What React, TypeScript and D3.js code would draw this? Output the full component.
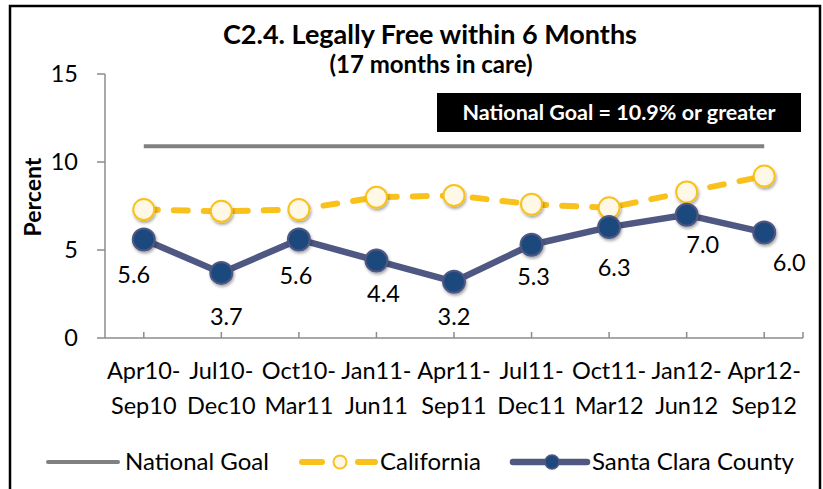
import * as d3 from "d3";
import { useRef, useEffect } from "react";

const periods = [
  ["Apr10-", "Sep10"],
  ["Jul10-", "Dec10"],
  ["Oct10-", "Mar11"],
  ["Jan11-", "Jun11"],
  ["Apr11-", "Sep11"],
  ["Jul11-", "Dec11"],
  ["Oct11-", "Mar12"],
  ["Jan12-", "Jun12"],
  ["Apr12-", "Sep12"],
];
const californiaValues = [7.3, 7.2, 7.3, 8.0, 8.1, 7.6, 7.4, 8.3, 9.2];
const santaClaraValues = [5.6, 3.7, 5.6, 4.4, 3.2, 5.3, 6.3, 7.0, 6.0];
const nationalGoal = 10.9;
const yTicks = [0, 5, 10, 15];

// hand placed label offsets (dx, dy from the marker centre)
const labelOffsets: [number, number][] = [
  [-10, 36],
  [5, 44],
  [-3, 37],
  [7, 33],
  [0, 35],
  [2, 32],
  [5, 41],
  [16, 30],
  [25, 31],
];

const FONT = "Lato, 'Liberation Sans', sans-serif";
const GOLD = "#F9C11B";
const NAVY = "#1F497D";
const SLATE = "#4F5882";
const GRAY = "#808080";

export default function App() {
  const width = 823;
  const height = 489;
  const marginLeft = 105;
  const plotRight = 803;
  const yTop = 74;
  const yBottom = 338;

  const ref = useRef(null);
  useEffect((): void => {
    if (!ref.current) return;
    const svg = d3.select(ref.current);
    svg.selectAll("*").remove();

    const keys = periods.map((p) => p.join(""));
    const x = d3.scaleBand().domain(keys).range([marginLeft, plotRight]);
    const cx = (i: number) => (x(keys[i]) as number) + x.bandwidth() / 2;
    const y = d3.scaleLinear().domain([0, 15]).range([yBottom, yTop]);

    const defs = svg.append("defs");
    defs
      .append("filter")
      .attr("id", "shadow")
      .attr("x", "-50%")
      .attr("y", "-50%")
      .attr("width", "200%")
      .attr("height", "200%")
      .append("feDropShadow")
      .attr("dx", 1)
      .attr("dy", 2)
      .attr("stdDeviation", 1.5)
      .attr("flood-opacity", 0.35);

    // outer frame
    svg
      .append("rect")
      .attr("x", 10)
      .attr("y", 6)
      .attr("width", 810)
      .attr("height", 520)
      .attr("fill", "white")
      .attr("stroke", "black")
      .attr("stroke-width", 2.5);

    // titles
    svg
      .append("text")
      .attr("x", 430)
      .attr("y", 44)
      .attr("text-anchor", "middle")
      .attr("font-family", FONT)
      .attr("font-weight", "bold")
      .attr("font-size", 27)
      .text("C2.4. Legally Free within 6 Months");
    svg
      .append("text")
      .attr("x", 431)
      .attr("y", 73)
      .attr("text-anchor", "middle")
      .attr("font-family", FONT)
      .attr("font-weight", "bold")
      .attr("font-size", 24)
      .text("(17 months in care)");

    // goal box
    svg
      .append("rect")
      .attr("x", 437)
      .attr("y", 93)
      .attr("width", 364)
      .attr("height", 39)
      .attr("fill", "black");
    svg
      .append("text")
      .attr("x", 619)
      .attr("y", 120)
      .attr("text-anchor", "middle")
      .attr("font-family", FONT)
      .attr("font-weight", "bold")
      .attr("font-size", 21.5)
      .attr("fill", "white")
      .text("National Goal = 10.9% or greater");

    // y axis
    const yAxis = svg.append("g").attr("stroke", "#8c8c8c").attr("stroke-width", 1.5);
    yAxis
      .append("line")
      .attr("x1", marginLeft)
      .attr("x2", marginLeft)
      .attr("y1", y(15))
      .attr("y2", y(0));
    yAxis
      .selectAll("line.tick")
      .data(yTicks)
      .join("line")
      .attr("class", "tick")
      .attr("x1", marginLeft - 8)
      .attr("x2", marginLeft)
      .attr("y1", (d) => y(d))
      .attr("y2", (d) => y(d));
    svg
      .append("g")
      .attr("font-family", FONT)
      .attr("font-size", 23.5)
      .attr("text-anchor", "end")
      .selectAll("text")
      .data(yTicks)
      .join("text")
      .attr("x", 78)
      .attr("y", (d) => y(d) + 8)
      .text((d) => d);
    svg
      .append("text")
      .attr("transform", "translate(41,197) rotate(-90)")
      .attr("text-anchor", "middle")
      .attr("font-family", FONT)
      .attr("font-weight", "bold")
      .attr("font-size", 23)
      .text("Percent");

    // x axis
    const xAxis = svg.append("g").attr("stroke", "#8c8c8c").attr("stroke-width", 1.5);
    xAxis
      .append("line")
      .attr("x1", marginLeft)
      .attr("x2", plotRight)
      .attr("y1", yBottom)
      .attr("y2", yBottom);
    xAxis
      .selectAll("line.tick")
      .data([...keys.map((_, i) => cx(i)), plotRight])
      .join("line")
      .attr("class", "tick")
      .attr("x1", (d) => d)
      .attr("x2", (d) => d)
      .attr("y1", yBottom - 6)
      .attr("y2", yBottom);
    const xLabels = svg
      .append("g")
      .attr("font-family", FONT)
      .attr("font-size", 23.5)
      .attr("text-anchor", "middle")
      .selectAll("text")
      .data(periods)
      .join("text")
      .attr("transform", (_, i) => `translate(${cx(i)},0)`);
    xLabels.append("tspan").attr("x", 0).attr("y", 379).text((d) => d[0]);
    xLabels.append("tspan").attr("x", 0).attr("y", 414).text((d) => d[1]);

    // national goal line
    svg
      .append("line")
      .attr("x1", cx(0))
      .attr("x2", cx(keys.length - 1))
      .attr("y1", y(nationalGoal))
      .attr("y2", y(nationalGoal))
      .attr("stroke", GRAY)
      .attr("stroke-width", 4);

    const line = d3
      .line<number>()
      .x((_, i) => cx(i))
      .y((d) => y(d));

    // california
    svg
      .append("path")
      .attr("d", line(californiaValues))
      .attr("fill", "none")
      .attr("stroke", GOLD)
      .attr("stroke-width", 6)
      .attr("stroke-dasharray", "14 16")
      .attr("stroke-linecap", "round");
    svg
      .append("g")
      .selectAll("circle")
      .data(californiaValues)
      .join("circle")
      .attr("cx", (_, i) => cx(i))
      .attr("cy", (d) => y(d))
      .attr("r", 10.5)
      .attr("fill", "#FFF8E6")
      .attr("stroke", GOLD)
      .attr("stroke-width", 2)
      .attr("filter", "url(#shadow)");

    // santa clara
    svg
      .append("path")
      .attr("d", line(santaClaraValues))
      .attr("fill", "none")
      .attr("stroke", SLATE)
      .attr("stroke-width", 6.5)
      .attr("stroke-linejoin", "round");
    svg
      .append("g")
      .selectAll("circle")
      .data(santaClaraValues)
      .join("circle")
      .attr("cx", (_, i) => cx(i))
      .attr("cy", (d) => y(d))
      .attr("r", 11)
      .attr("fill", NAVY)
      .attr("stroke", SLATE)
      .attr("stroke-width", 2)
      .attr("filter", "url(#shadow)");
    svg
      .append("g")
      .attr("font-family", FONT)
      .attr("font-size", 23.5)
      .attr("text-anchor", "middle")
      .selectAll("text")
      .data(santaClaraValues)
      .join("text")
      .attr("x", (_, i) => cx(i) + labelOffsets[i][0])
      .attr("y", (d, i) => y(d) + labelOffsets[i][1] + 8)
      .text((d) => d.toFixed(1));

    // legend
    const legendY = 462;
    const lg = svg.append("g").attr("font-family", FONT).attr("font-size", 24);
    lg.append("line")
      .attr("x1", 48)
      .attr("x2", 118)
      .attr("y1", legendY)
      .attr("y2", legendY)
      .attr("stroke", GRAY)
      .attr("stroke-width", 4)
      .attr("stroke-linecap", "round");
    lg.append("text").attr("x", 125).attr("y", legendY + 8).text("National Goal");

    [
      [302, 322],
      [358, 375],
    ].forEach(([a, b]) =>
      lg
        .append("line")
        .attr("x1", a)
        .attr("x2", b)
        .attr("y1", legendY)
        .attr("y2", legendY)
        .attr("stroke", GOLD)
        .attr("stroke-width", 6)
        .attr("stroke-linecap", "round"),
    );
    lg.append("circle")
      .attr("cx", 340)
      .attr("cy", legendY)
      .attr("r", 6.5)
      .attr("fill", "#FFF8E6")
      .attr("stroke", GOLD)
      .attr("stroke-width", 2);
    lg.append("text").attr("x", 380).attr("y", legendY + 8).text("California");

    lg.append("line")
      .attr("x1", 513)
      .attr("x2", 587)
      .attr("y1", legendY)
      .attr("y2", legendY)
      .attr("stroke", SLATE)
      .attr("stroke-width", 6.5)
      .attr("stroke-linecap", "round");
    lg.append("circle")
      .attr("cx", 552)
      .attr("cy", legendY)
      .attr("r", 7)
      .attr("fill", NAVY)
      .attr("stroke", SLATE)
      .attr("stroke-width", 1.5);
    lg.append("text").attr("x", 592).attr("y", legendY + 8).text("Santa Clara County");
  }, []);

  return (
    <svg
      ref={ref}
      width={width}
      height={height}
      style={{ position: "absolute", left: 0, top: 0, display: "block" }}
    />
  );
}
